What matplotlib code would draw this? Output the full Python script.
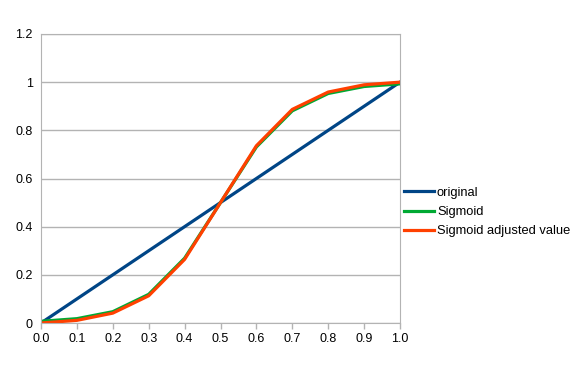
import matplotlib
matplotlib.use("Agg")
import matplotlib.pyplot as plt

x = [0.0, 0.1, 0.2, 0.3, 0.4, 0.5, 0.6, 0.7, 0.8, 0.9, 1.0]
original = [0.0, 0.1, 0.2, 0.3, 0.4, 0.5, 0.6, 0.7, 0.8, 0.9, 1.0]
sigmoid = [0.007, 0.018, 0.047, 0.119, 0.269, 0.5, 0.731, 0.881, 0.953, 0.982, 0.993]
sigmoid_adj = [0.0, 0.011, 0.041, 0.113, 0.264, 0.5, 0.736, 0.887, 0.959, 0.989, 1.0]
xticklabels = ["0.0", "0.1", "0.2", "0.3", "0.4", "0.5", "0.6", "0.7", "0.8", "0.9", "1.0"]
yticks = [0, 0.2, 0.4, 0.6, 0.8, 1, 1.2]
yticklabels = ["0", "0.2", "0.4", "0.6", "0.8", "1", "1.2"]

plt.rcParams['font.family'] = ['Liberation Sans', 'DejaVu Sans']

fig = plt.figure(figsize=(5.79, 3.83), dpi=100)
ax = fig.add_axes([41/579, 60/383, 359/579, 289/383])

ax.plot(x, original, color='#004586', lw=2.3, label='original')
ax.plot(x, sigmoid, color='#00a933', lw=2.3, label='Sigmoid')
ax.plot(x, sigmoid_adj, color='#ff4000', lw=2.3, label='Sigmoid adjusted value')

ax.set_xlim(0, 1)
ax.set_ylim(0, 1.2)
ax.set_xticks(x)
ax.set_xticklabels(xticklabels)
ax.set_yticks(yticks)
ax.set_yticklabels(yticklabels)
ax.grid(axis='y', color='#b3b3b3', lw=1)
ax.set_axisbelow(True)
for s in ax.spines.values():
    s.set_color('#b3b3b3')
ax.tick_params(axis='both', colors='#b3b3b3', labelcolor='black', labelsize=9, length=4, width=1)
ax.tick_params(axis='y', length=0, pad=6)

fig.legend(loc='center left', bbox_to_anchor=(404/579, 1 - 212/383), frameon=False,
           fontsize=9.3, handlelength=2.3, handletextpad=0.25, labelspacing=0.55,
           borderaxespad=0, borderpad=0)

fig.savefig('out.png', dpi=100)
